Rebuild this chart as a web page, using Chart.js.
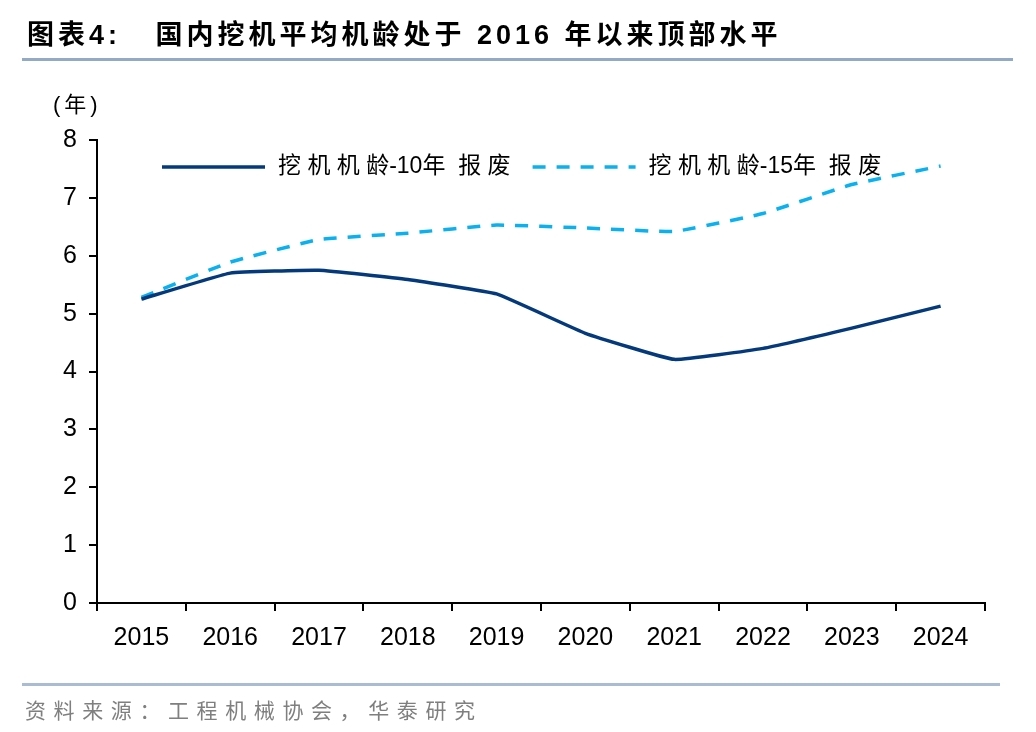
<!DOCTYPE html>
<html>
<head>
<meta charset="utf-8">
<script src="https://cdn.jsdelivr.net/npm/chart.js@4.4.1/dist/chart.umd.min.js"></script>
<style>
  html, body { margin: 0; padding: 0; background: #fff; }
  body { width: 1036px; height: 732px; position: relative; overflow: hidden; }
  #wrap { position: absolute; left: 0; top: 0; width: 1036px; height: 732px; }
  .title {
    position: absolute; left: 27px; top: 17px;
    font-family: "Liberation Sans", "Noto Sans CJK SC", sans-serif;
    font-weight: bold; font-size: 27px; letter-spacing: 4px; color: #000;
    white-space: pre; line-height: 36px;
  }
  .rule { position: absolute; left: 22px; height: 3px; background: #93aac6; }
  .unit {
    position: absolute; left: 53px; top: 86px;
    font-family: "Liberation Sans", "Noto Sans CJK SC", sans-serif;
    font-size: 22px; letter-spacing: 4px; color: #000; white-space: pre;
  }
  .source {
    position: absolute; left: 25px; top: 694px;
    font-family: "Noto Sans CJK SC", sans-serif;
    font-size: 21px; letter-spacing: 7.6px; color: #7f7f7f; white-space: pre;
  }
</style>
</head>
<body>
<div id="wrap"><canvas id="ageChart"></canvas></div>
<div class="title">图表4:   国内挖机平均机龄处于 2016 年以来顶部水平</div>
<div class="rule" style="top:58px; width:991px;"></div>
<div class="unit">(年)</div>
<div class="rule" style="top:683px; width:978px; background:#a9bcd3;"></div>
<div class="source">资料来源：工程机械协会，华泰研究</div>

<script>
// categories and values
const years = ['2015', '2016', '2017', '2018', '2019', '2020', '2021', '2022', '2023', '2024'];
const age10 = [5.25, 5.70, 5.75, 5.59, 5.34, 4.66, 4.21, 4.40, 4.75, 5.13];
const age15 = [5.28, 5.89, 6.28, 6.39, 6.53, 6.48, 6.42, 6.73, 7.23, 7.55];
const label10 = '挖 机 机 龄-10年  报 废';
const label15 = '挖 机 机 龄-15年  报 废';

const tickFont = { family: "'Liberation Sans', Arial, sans-serif", size: 25 };

// legend drawn inside the plot area, one row, like the original
const insideLegend = {
  id: 'insideLegend',
  afterDatasetsDraw(chart) {
    const c = chart.ctx;
    const area = chart.chartArea;
    const sampleW = 103, gap = 13, itemGap = 22;
    let x = area.left + 65;
    const y = area.top + 27;
    c.save();
    c.font = "23px 'Liberation Sans', 'Noto Sans CJK SC', sans-serif";
    c.textBaseline = 'middle';
    c.textAlign = 'left';
    chart.data.datasets.forEach(function(ds) {
      c.strokeStyle = ds.borderColor;
      c.lineWidth = ds.borderWidth;
      c.setLineDash(ds.borderDash || []);
      c.beginPath();
      c.moveTo(x, y);
      c.lineTo(x + sampleW, y);
      c.stroke();
      c.setLineDash([]);
      c.fillStyle = '#000';
      c.fillText(ds.label, x + sampleW + gap, y);
      x += sampleW + gap + c.measureText(ds.label).width + itemGap;
    });
    c.restore();
  }
};

var ctx = document.getElementById('ageChart').getContext('2d');
var chart = new Chart(ctx, {
  type: 'line',
  data: {
    labels: years,
    datasets: [{
      label: label10,
      data: age10,
      borderColor: '#043a7c',
      backgroundColor: '#043a7c',
      borderWidth: 3.5,
      pointRadius: 0,
      tension: 0.1,
      fill: false
    }, {
      label: label15,
      data: age15,
      borderColor: '#0bb0ee',
      backgroundColor: '#0bb0ee',
      borderWidth: 3.5,
      borderDash: [13, 11],
      pointRadius: 0,
      tension: 0.1,
      fill: false
    }]
  },
  plugins: [insideLegend],
  options: {
    responsive: true,
    maintainAspectRatio: false,
    animation: false,
    layout: {
      padding: { left: 0, right: 51, top: 140, bottom: 79 }
    },
    plugins: {
      tooltip: { enabled: false },
      legend: { display: false }
    },
    scales: {
      x: {
        offset: true,
        afterFit: function(scale) { scale.height = 50; },
        border: { color: '#000', width: 2 },
        grid: {
          offset: true,
          drawOnChartArea: false,
          drawTicks: true,
          tickLength: 8,
          color: '#000',
          lineWidth: 2
        },
        ticks: { color: '#000', font: tickFont, padding: 12, maxRotation: 0 }
      },
      y: {
        min: 0,
        max: 8,
        afterFit: function(scale) { scale.width = 97; },
        border: { color: '#000', width: 2 },
        grid: {
          drawOnChartArea: false,
          drawTicks: true,
          tickLength: 8,
          color: '#000',
          lineWidth: 2
        },
        ticks: { stepSize: 1, color: '#000', font: tickFont, padding: 12 }
      }
    }
  }
});
</script>
</body>
</html>
